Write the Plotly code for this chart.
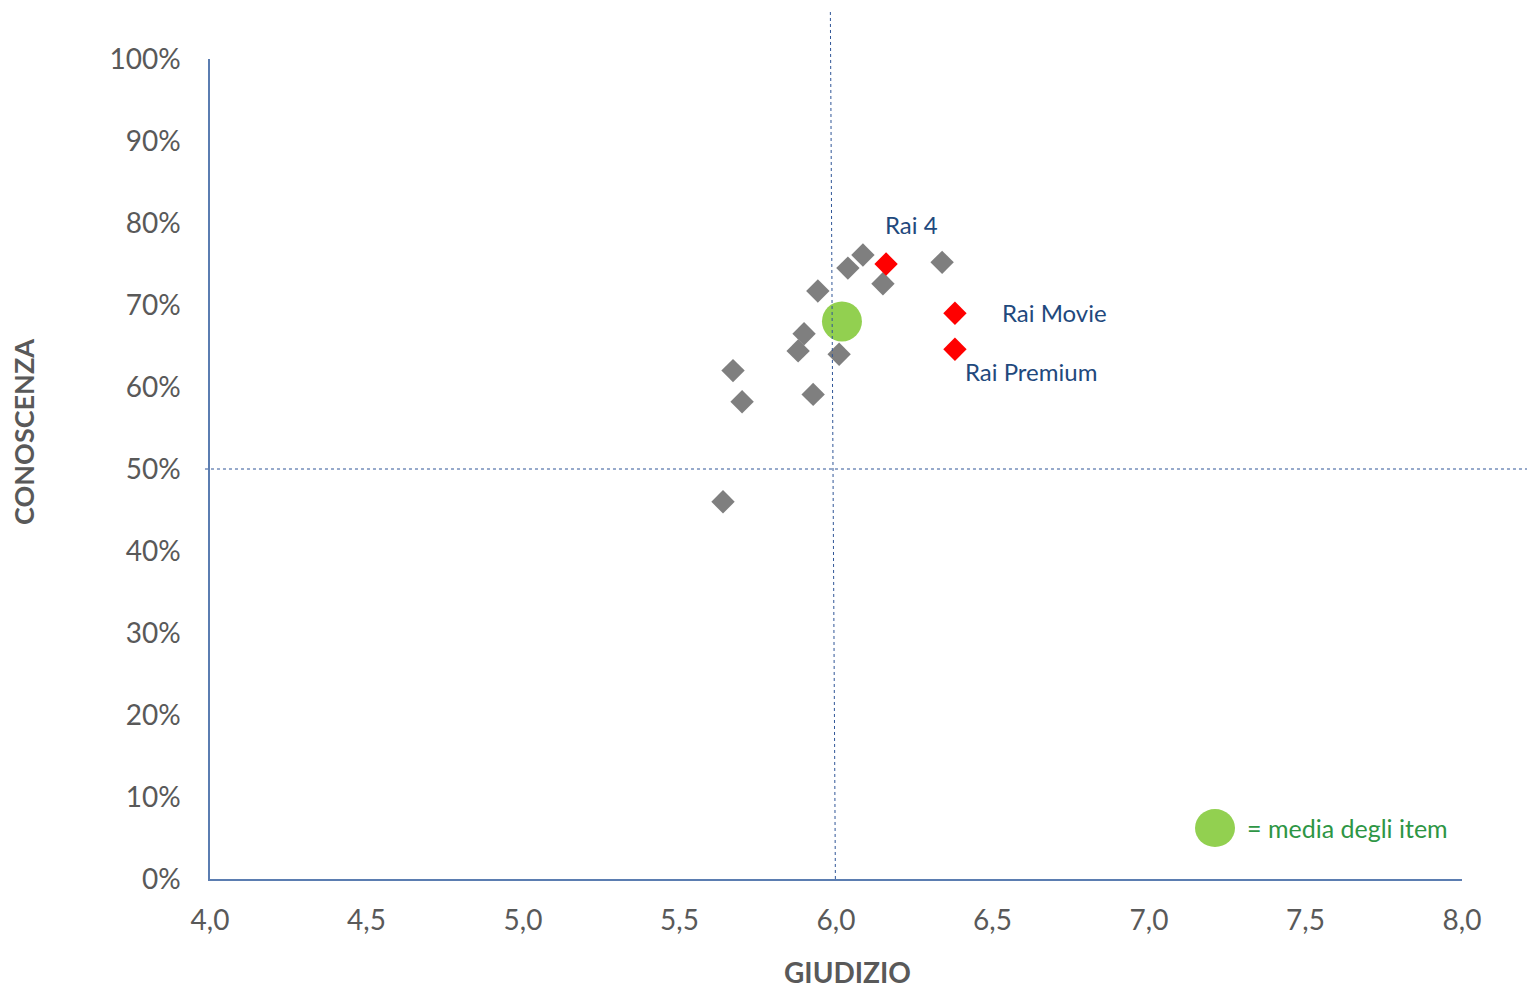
import plotly.graph_objects as go

# Data
gray_x = [6.086, 6.339, 6.038, 6.150, 5.942, 5.898, 5.879, 6.010, 5.671, 5.700, 5.927, 5.639]
gray_y = [0.761, 0.752, 0.745, 0.726, 0.717, 0.665, 0.644, 0.640, 0.620, 0.582, 0.591, 0.460]
red_names = ["Rai 4", "Rai Movie", "Rai Premium"]
red_x = [6.160, 6.380, 6.380]
red_y = [0.750, 0.690, 0.646]
mean_x = [6.019]
mean_y = [0.680]
ref_x = 5.99   # vertical reference line (giudizio)
ref_y = 0.50   # horizontal reference line (conoscenza)
x_ticks = [4.0, 4.5, 5.0, 5.5, 6.0, 6.5, 7.0, 7.5, 8.0]
x_tick_labels = ["4,0", "4,5", "5,0", "5,5", "6,0", "6,5", "7,0", "7,5", "8,0"]
y_ticks = [0, 0.1, 0.2, 0.3, 0.4, 0.5, 0.6, 0.7, 0.8, 0.9, 1.0]
y_tick_labels = ["0%", "10%", "20%", "30%", "40%", "50%", "60%", "70%", "80%", "90%", "100%"]

XMIN, XMAX = 4.0, 8.0
FONT = "Lato, 'Open Sans', sans-serif"
TXT = "#595959"
BLUE = "#1F497D"
AXIS = "#5B7DB1"

# plot area in page pixels (page body has an 8px margin)
PL, PR, PT, PB = 210, 1462, 59, 879
OFF = 8
PW, PH = PR - PL, PB - PT

fig = go.Figure()
fig.add_trace(go.Scatter(x=gray_x, y=gray_y, mode="markers",
                         marker=dict(symbol="diamond", size=18, color="#7F7F7F"),
                         showlegend=False, hoverinfo="x+y"))
fig.add_trace(go.Scatter(x=mean_x, y=mean_y, mode="markers",
                         marker=dict(symbol="circle", size=40, color="#92D050"),
                         showlegend=False))
fig.add_trace(go.Scatter(x=red_x, y=red_y, mode="markers", text=red_names,
                         marker=dict(symbol="diamond", size=18, color="#FF0000"),
                         showlegend=False))

# labels
offsets = [dict(xshift=-3, yshift=40),
           dict(xshift=45, yshift=1),
           dict(xshift=8, yshift=-22)]
for n, x, y, o in zip(red_names, red_x, red_y, offsets):
    fig.add_annotation(x=x, y=y, xref="x", yref="y", text=n, showarrow=False,
                       font=dict(family=FONT, size=24, color=BLUE),
                       xshift=o["xshift"], yshift=o["yshift"],
                       xanchor="left", yanchor="middle")

# reference lines (in paper coordinates so they may extend beyond plot)
vx = (ref_x - XMIN) / (XMAX - XMIN)
fig.add_shape(type="line", xref="paper", yref="paper", x0=vx - 0.002, x1=vx + 0.002,
              y0=(PB - 12) / PH, y1=0, line=dict(color="#2F5597", width=1, dash="dot"))
fig.add_shape(type="line", xref="paper", yref="y", x0=-0.004, x1=1.08,
              y0=ref_y, y1=ref_y, line=dict(color="#2F5597", width=1, dash="dot"))

# legend-like note
fig.add_shape(type="circle", xref="paper", yref="paper",
              x0=(1195 - PL) / PW, x1=(1235 - PL) / PW,
              y0=(PB - 847) / PH, y1=(PB - 809) / PH,
              fillcolor="#92D050", line=dict(width=0))
fig.add_annotation(xref="paper", yref="paper", x=(1245 - PL) / PW, y=(PB - 828) / PH,
                   text="= media degli item", showarrow=False, xanchor="left", yanchor="middle",
                   font=dict(family=FONT, size=25, color="#2E9645"))

# axis titles
fig.add_annotation(xref="paper", yref="paper", x=(847 - PL) / PW, y=(PB - 972) / PH,
                   text="<b>GIUDIZIO</b>", showarrow=False, xanchor="center", yanchor="middle",
                   font=dict(family=FONT, size=28, color=TXT))
fig.add_annotation(xref="paper", yref="paper", x=(24 - PL) / PW, y=(PB - 432) / PH,
                   text="<b>CONOSCENZA</b>", showarrow=False, textangle=-90,
                   xanchor="center", yanchor="middle",
                   font=dict(family=FONT, size=27, color=TXT))

fig.update_xaxes(range=[XMIN, XMAX], tickvals=x_ticks, ticktext=x_tick_labels,
                 showgrid=False, zeroline=False, showline=True, linecolor=AXIS, linewidth=1.5,
                 ticks="", ticklabelstandoff=16,
                 tickfont=dict(family=FONT, size=28, color=TXT))
fig.update_yaxes(range=[0, 1], tickvals=y_ticks, ticktext=y_tick_labels,
                 showgrid=False, zeroline=False, showline=True, linecolor=AXIS, linewidth=1.5,
                 ticks="", ticklabelstandoff=22,
                 tickfont=dict(family=FONT, size=28, color=TXT))

fig.update_layout(width=1535, height=987, autosize=False,
                  margin=dict(l=PL - OFF, r=1535 + OFF - PR, t=PT - OFF, b=987 + OFF - PB),
                  plot_bgcolor="white", paper_bgcolor="white")

fig.write_html("out.html")
